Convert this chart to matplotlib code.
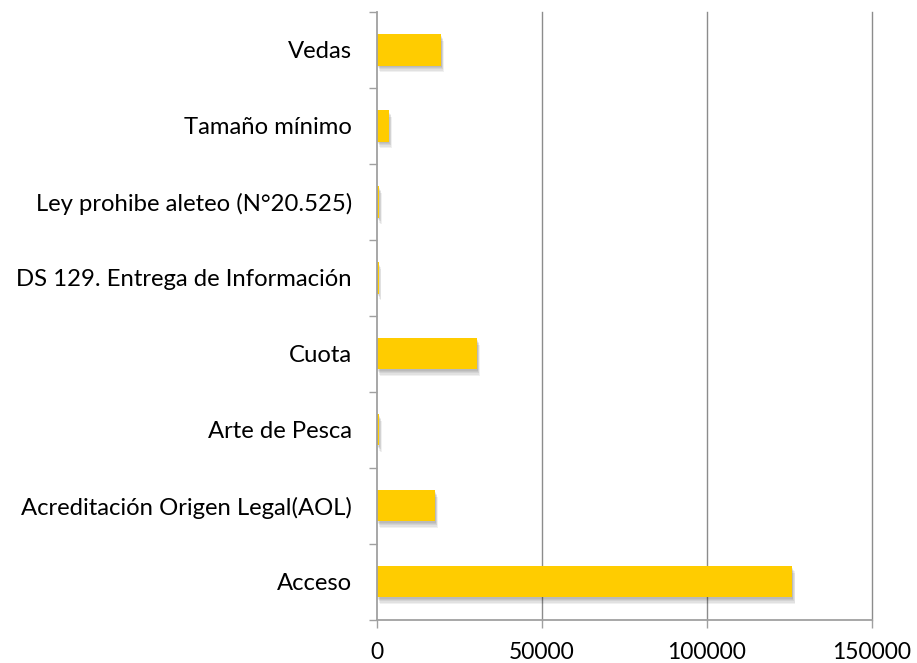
import matplotlib
matplotlib.use("Agg")
import matplotlib.pyplot as plt
import matplotlib.patheffects as pe
import numpy as np

# categories listed bottom to top
categories = ['Acceso', 'Acreditación Origen Legal(AOL)', 'Arte de Pesca',
              'Cuota', 'DS 129. Entrega de Información',
              'Ley prohibe aleteo (N°20.525)', 'Tamaño mínimo', 'Vedas']
values = [125800, 17600, 600, 30300, 500, 600, 3600, 19400]
xticks = [0, 50000, 100000, 150000]

plt.rcParams['font.family'] = ['Lato', 'DejaVu Sans']

fig = plt.figure(figsize=(9.17, 6.63), dpi=100)
ax = fig.add_axes([0.411, 0.065, 0.540, 0.917])

y = np.arange(len(categories))

# soft drop shadow below the bars, built from offset translucent layers
shadow = [pe.SimplePatchShadow(offset=(0.5 + i * 0.4, -1.0 - i * 0.9),
                               shadow_rgbFace='black', alpha=0.06)
          for i in range(5)]
ax.barh(y, values, height=0.41, color='#FFCC00', zorder=3,
        path_effects=shadow + [pe.Normal()])

ax.set_xlim(0, 150000)
ax.set_ylim(-0.5, len(categories) - 0.5)
ax.set_xticks(xticks)
ax.set_xticklabels([str(t) for t in xticks])

# labels at category centres, tick marks at category boundaries
ax.set_yticks(y)
ax.set_yticklabels(categories)
ax.set_yticks(np.arange(len(categories) + 1) - 0.5, minor=True)
ax.tick_params(axis='y', which='major', length=0, pad=18, labelsize=17.2)
ax.tick_params(axis='y', which='minor', length=6, width=1, color='#a0a0a0',
               direction='out')
ax.tick_params(axis='x', length=6, width=1, color='#a0a0a0', pad=10,
               labelsize=16.5)

for t in xticks[1:]:
    ax.axvline(t, color='#8c8c8c', linewidth=1, zorder=0, clip_on=False)
for s in ['top', 'right']:
    ax.spines[s].set_visible(False)
for s in ['left', 'bottom']:
    ax.spines[s].set_color('#a0a0a0')
    ax.spines[s].set_linewidth(1.3)
    ax.spines[s].set_zorder(4)

fig.savefig('out.png', dpi=100)
